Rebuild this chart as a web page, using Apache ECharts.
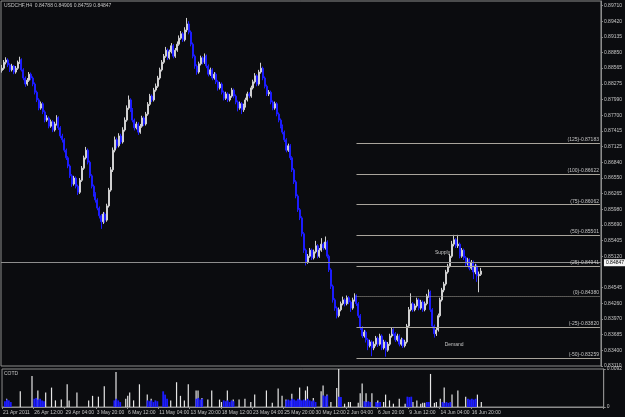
<!DOCTYPE html>
<html><head><meta charset="utf-8">
<script src="https://cdn.jsdelivr.net/npm/echarts@6/dist/echarts.min.js"></script>
<style>html,body{margin:0;padding:0;background:#0b0c0f;}#c{width:625px;height:417px;}</style>
</head><body><div id="c"></div>
<script>
// Tick labels of the time axis (one every 16 H4 bars)
const xTickLabels = ['21 Apr 2011','26 Apr 12:00','29 Apr 04:00','3 May 20:00','6 May 12:00','11 May 04:00','13 May 20:00','18 May 12:00','23 May 04:00','25 May 20:00','30 May 12:00','2 Jun 04:00','6 Jun 20:00','9 Jun 12:00','14 Jun 04:00','16 Jun 20:00'];
// Price axis tick labels
const priceTicks = [0.89710,0.89420,0.89135,0.88850,0.88565,0.88275,0.87990,0.87700,0.87415,0.87125,0.86840,0.86550,0.86265,0.85980,0.85690,0.85405,0.85120,0.84545,0.84260,0.83970,0.83685,0.83400,0.83110];
// Fibonacci levels
const fibNames = ['(125)','(100)','(75)','(50)','(25)','(0)','(-25)','(-50)'];
const fibPrices = [0.87183,0.86622,0.86062,0.85501,0.84941,0.84380,0.83820,0.83259];
const lastPrice = 0.84847;

const open = [0.8852,0.8856,0.8867,0.8871,0.8862,0.8853,0.8860,0.8849,0.8856,0.8867,
0.8871,0.8853,0.8838,0.8827,0.8834,0.8845,0.8838,0.8827,0.8812,0.8798,
0.8783,0.8791,0.8776,0.8761,0.8765,0.8750,0.8758,0.8743,0.8754,0.8765,
0.8747,0.8732,0.8725,0.8706,0.8692,0.8677,0.8659,0.8644,0.8655,0.8640,
0.8629,0.8651,0.8673,0.8692,0.8706,0.8684,0.8659,0.8640,0.8626,0.8615,
0.8600,0.8586,0.8575,0.8589,0.8578,0.8604,0.8633,0.8670,0.8706,0.8725,
0.8714,0.8732,0.8721,0.8743,0.8761,0.8783,0.8798,0.8780,0.8761,0.8747,
0.8754,0.8739,0.8750,0.8765,0.8754,0.8772,0.8790,0.8805,0.8798,0.8816,
0.8823,0.8838,0.8853,0.8867,0.8878,0.8889,0.8875,0.8886,0.8897,0.8878,
0.8889,0.8900,0.8911,0.8919,0.8908,0.8926,0.8937,0.8922,0.8900,0.8878,
0.8860,0.8849,0.8864,0.8875,0.8867,0.8878,0.8860,0.8845,0.8853,0.8838,
0.8845,0.8831,0.8820,0.8827,0.8812,0.8801,0.8809,0.8798,0.8805,0.8816,
0.8805,0.8794,0.8783,0.8791,0.8780,0.8787,0.8798,0.8809,0.8805,0.8820,
0.8831,0.8842,0.8827,0.8849,0.8856,0.8838,0.8823,0.8809,0.8812,0.8794,
0.8783,0.8791,0.8772,0.8761,0.8750,0.8739,0.8725,0.8706,0.8714,0.8692,
0.8670,0.8648,0.8622,0.8597,0.8582,0.8553,0.8523,0.8501,0.8512,0.8523,
0.8509,0.8520,0.8531,0.8512,0.8523,0.8534,0.8527,0.8538,0.8512,0.8487,
0.8457,0.8432,0.8417,0.8403,0.8414,0.8425,0.8432,0.8425,0.8436,0.8428,
0.8417,0.8432,0.8439,0.8425,0.8403,0.8381,0.8366,0.8373,0.8359,0.8348,
0.8355,0.8344,0.8351,0.8362,0.8351,0.8366,0.8344,0.8355,0.8340,0.8351,
0.8366,0.8377,0.8370,0.8359,0.8366,0.8351,0.8359,0.8348,0.8355,0.8384,
0.8414,0.8425,0.8414,0.8421,0.8432,0.8417,0.8428,0.8414,0.8425,0.8439,
0.8446,0.8414,0.8384,0.8370,0.8377,0.8403,0.8432,0.8450,0.8461,0.8483,
0.8494,0.8512,0.8534,0.8542,0.8531,0.8534,0.8512,0.8523,0.8509,0.8498,
0.8505,0.8490,0.8501,0.8483,0.8494,0.8476,0.84788];

const close = [0.8856,0.8867,0.8871,0.8862,0.8853,0.8860,0.8849,0.8856,0.8867,0.8871,
0.8853,0.8838,0.8827,0.8834,0.8845,0.8838,0.8827,0.8812,0.8798,0.8783,
0.8791,0.8776,0.8761,0.8765,0.8750,0.8758,0.8743,0.8754,0.8765,0.8747,
0.8732,0.8725,0.8706,0.8692,0.8677,0.8659,0.8644,0.8655,0.8640,0.8629,
0.8651,0.8673,0.8692,0.8706,0.8684,0.8659,0.8640,0.8626,0.8615,0.8600,
0.8586,0.8575,0.8589,0.8578,0.8604,0.8633,0.8670,0.8706,0.8725,0.8714,
0.8732,0.8721,0.8743,0.8761,0.8783,0.8798,0.8780,0.8761,0.8747,0.8754,
0.8739,0.8750,0.8765,0.8754,0.8772,0.8790,0.8805,0.8798,0.8816,0.8823,
0.8838,0.8853,0.8867,0.8878,0.8889,0.8875,0.8886,0.8897,0.8878,0.8889,
0.8900,0.8911,0.8919,0.8908,0.8926,0.8937,0.8922,0.8900,0.8878,0.8860,
0.8849,0.8864,0.8875,0.8867,0.8878,0.8860,0.8845,0.8853,0.8838,0.8845,
0.8831,0.8820,0.8827,0.8812,0.8801,0.8809,0.8798,0.8805,0.8816,0.8805,
0.8794,0.8783,0.8791,0.8780,0.8787,0.8798,0.8809,0.8805,0.8820,0.8831,
0.8842,0.8827,0.8849,0.8856,0.8838,0.8823,0.8809,0.8812,0.8794,0.8783,
0.8791,0.8772,0.8761,0.8750,0.8739,0.8725,0.8706,0.8714,0.8692,0.8670,
0.8648,0.8622,0.8597,0.8582,0.8553,0.8523,0.8501,0.8512,0.8523,0.8509,
0.8520,0.8531,0.8512,0.8523,0.8534,0.8527,0.8538,0.8512,0.8487,0.8457,
0.8432,0.8417,0.8403,0.8414,0.8425,0.8432,0.8425,0.8436,0.8428,0.8417,
0.8432,0.8439,0.8425,0.8403,0.8381,0.8366,0.8373,0.8359,0.8348,0.8355,
0.8344,0.8351,0.8362,0.8351,0.8366,0.8344,0.8355,0.8340,0.8351,0.8366,
0.8377,0.8370,0.8359,0.8366,0.8351,0.8359,0.8348,0.8355,0.8384,0.8414,
0.8425,0.8414,0.8421,0.8432,0.8417,0.8428,0.8414,0.8425,0.8439,0.8446,
0.8414,0.8384,0.8370,0.8377,0.8403,0.8432,0.8450,0.8461,0.8483,0.8494,
0.8512,0.8534,0.8542,0.8531,0.8534,0.8512,0.8523,0.8509,0.8498,0.8505,
0.8490,0.8501,0.8483,0.8494,0.8476,0.8479,0.84847];

const high = [0.8862,0.8871,0.8876,0.8874,0.8865,0.8864,0.8862,0.8860,0.8870,0.8877,
0.8874,0.8856,0.8841,0.8838,0.8849,0.8848,0.8841,0.8830,0.8815,0.8801,
0.8795,0.8794,0.8779,0.8770,0.8768,0.8762,0.8761,0.8758,0.8770,0.8768,
0.8750,0.8736,0.8728,0.8709,0.8695,0.8680,0.8662,0.8659,0.8658,0.8643,
0.8655,0.8677,0.8696,0.8712,0.8709,0.8687,0.8662,0.8643,0.8629,0.8618,
0.8603,0.8589,0.8593,0.8592,0.8608,0.8637,0.8675,0.8711,0.8731,0.8729,
0.8737,0.8736,0.8748,0.8766,0.8788,0.8806,0.8801,0.8783,0.8764,0.8758,
0.8757,0.8754,0.8769,0.8768,0.8776,0.8794,0.8809,0.8808,0.8820,0.8828,
0.8842,0.8857,0.8871,0.8882,0.8895,0.8892,0.8890,0.8902,0.8900,0.8893,
0.8905,0.8916,0.8924,0.8922,0.8931,0.8948,0.8942,0.8925,0.8903,0.8881,
0.8863,0.8868,0.8879,0.8878,0.8883,0.8881,0.8863,0.8857,0.8856,0.8849,
0.8848,0.8834,0.8831,0.8830,0.8815,0.8813,0.8812,0.8809,0.8820,0.8819,
0.8808,0.8797,0.8795,0.8794,0.8791,0.8802,0.8813,0.8812,0.8824,0.8835,
0.8847,0.8845,0.8853,0.8866,0.8859,0.8841,0.8826,0.8816,0.8815,0.8797,
0.8795,0.8794,0.8775,0.8764,0.8753,0.8742,0.8728,0.8718,0.8717,0.8695,
0.8673,0.8651,0.8625,0.8600,0.8585,0.8556,0.8526,0.8516,0.8527,0.8526,
0.8524,0.8540,0.8534,0.8527,0.8545,0.8537,0.8548,0.8541,0.8515,0.8490,
0.8460,0.8435,0.8420,0.8418,0.8429,0.8438,0.8435,0.8440,0.8439,0.8431,
0.8436,0.8444,0.8442,0.8428,0.8406,0.8384,0.8377,0.8376,0.8362,0.8359,
0.8358,0.8356,0.8366,0.8365,0.8370,0.8369,0.8359,0.8358,0.8355,0.8370,
0.8381,0.8380,0.8373,0.8370,0.8369,0.8363,0.8362,0.8359,0.8388,0.8419,
0.8444,0.8428,0.8425,0.8436,0.8435,0.8432,0.8431,0.8429,0.8443,0.8451,
0.8449,0.8417,0.8387,0.8381,0.8407,0.8436,0.8454,0.8465,0.8487,0.8498,
0.8516,0.8540,0.8551,0.8545,0.8551,0.8537,0.8527,0.8526,0.8512,0.8509,
0.8508,0.8505,0.8504,0.8498,0.8497,0.8484,0.84906];

const low = [0.8848,0.8853,0.8863,0.8858,0.8849,0.8850,0.8845,0.8846,0.8853,0.8864,
0.8850,0.8834,0.8822,0.8824,0.8831,0.8834,0.8823,0.8808,0.8794,0.8779,
0.8780,0.8772,0.8757,0.8758,0.8746,0.8747,0.8739,0.8740,0.8751,0.8743,
0.8728,0.8720,0.8702,0.8688,0.8673,0.8655,0.8639,0.8641,0.8636,0.8624,
0.8626,0.8648,0.8670,0.8689,0.8680,0.8655,0.8636,0.8621,0.8610,0.8596,
0.8581,0.8562,0.8571,0.8573,0.8575,0.8601,0.8630,0.8666,0.8702,0.8709,
0.8711,0.8717,0.8718,0.8740,0.8758,0.8780,0.8776,0.8757,0.8742,0.8744,
0.8734,0.8736,0.8747,0.8750,0.8751,0.8769,0.8787,0.8794,0.8795,0.8813,
0.8820,0.8835,0.8850,0.8864,0.8875,0.8871,0.8872,0.8883,0.8874,0.8875,
0.8886,0.8897,0.8908,0.8904,0.8905,0.8922,0.8918,0.8896,0.8874,0.8855,
0.8844,0.8846,0.8861,0.8863,0.8864,0.8856,0.8841,0.8842,0.8834,0.8835,
0.8827,0.8815,0.8817,0.8808,0.8797,0.8798,0.8794,0.8795,0.8802,0.8801,
0.8790,0.8777,0.8780,0.8772,0.8776,0.8784,0.8795,0.8801,0.8802,0.8817,
0.8828,0.8823,0.8824,0.8846,0.8834,0.8819,0.8805,0.8805,0.8790,0.8779,
0.8780,0.8768,0.8757,0.8746,0.8735,0.8721,0.8702,0.8703,0.8688,0.8666,
0.8644,0.8618,0.8593,0.8578,0.8548,0.8518,0.8495,0.8498,0.8509,0.8505,
0.8506,0.8517,0.8508,0.8509,0.8520,0.8523,0.8524,0.8508,0.8483,0.8452,
0.8427,0.8412,0.8398,0.8400,0.8411,0.8422,0.8420,0.8422,0.8424,0.8410,
0.8414,0.8429,0.8421,0.8399,0.8377,0.8362,0.8363,0.8354,0.8340,0.8345,
0.8329,0.8340,0.8347,0.8346,0.8348,0.8340,0.8341,0.8328,0.8337,0.8348,
0.8363,0.8366,0.8355,0.8356,0.8347,0.8348,0.8344,0.8345,0.8352,0.8381,
0.8411,0.8410,0.8411,0.8418,0.8413,0.8414,0.8410,0.8411,0.8422,0.8436,
0.8410,0.8380,0.8363,0.8366,0.8374,0.8400,0.8429,0.8446,0.8458,0.8480,
0.8491,0.8509,0.8530,0.8527,0.8527,0.8508,0.8509,0.8505,0.8494,0.8495,
0.8486,0.8487,0.8470,0.8479,0.8465,0.8446,0.84759];

// COTD indicator histograms
const cotdWhite = [0,0,0.0020,0,0,0,0,0,0,0.0038,
0,0,0,0,0,0.0075,0,0,0.0040,0,
0,0,0.0035,0,0,0.0047,0,0.0016,0,0,
0.0018,0,0,0.0055,0.0016,0,0,0,0.0035,0,
0,0,0,0,0.0016,0,0.0027,0,0,0.0025,
0,0,0.0050,0,0,0,0,0,0.0085,0,
0,0,0,0.0020,0.0027,0.0035,0,0.0016,0,0,
0.0055,0,0,0,0.0030,0,0.0020,0,0,0,
0,0,0,0,0,0,0.0016,0,0,0.0060,
0,0.0027,0,0.0016,0,0.0055,0,0,0,0.0040,
0.0040,0,0.0022,0,0,0.0018,0,0.0040,0,0,
0,0.0018,0.0012,0,0,0.0040,0,0,0.0018,0,
0,0.0018,0,0,0.0020,0,0,0.0012,0,0.0030,
0,0,0,0,0,0.0040,0,0,0.0010,0,
0,0.0045,0,0.0027,0,0.0018,0,0,0.0032,0,
0,0,0.0047,0,0,0.0040,0.0050,0,0,0.0022,
0,0,0,0.0038,0.0052,0,0.0030,0,0.0012,0,
0,0.0046,0.0092,0,0,0.0008,0,0.0012,0.0012,0,
0,0,0.0010,0.0033,0.0057,0,0.0033,0,0,0.0033,
0,0,0.0016,0,0,0.0012,0.0030,0,0.0016,0,
0.0008,0,0,0.0020,0,0,0.0008,0,0,0,
0.0012,0,0.0016,0,0.0008,0.0010,0.0010,0,0,0.0080,
0,0.0010,0.0012,0,0.0020,0,0.0047,0,0,0,
0.0030,0,0,0.0040,0,0,0,0.0025,0,0,
0.0018,0,0,0.0030,0,0.0012,0];

const cotdBlue = [0,0.0014,0.0018,0.0016,0.0012,0,0,0,0,0,
0,0,0,0,0,0,0.0020,0.0022,0.0018,0.0020,
0.0016,0.0014,0,0,0,0,0,0,0,0,
0,0,0,0,0,0,0,0,0,0,
0,0,0,0,0,0,0,0,0,0,
0,0,0,0,0,0,0,0.0016,0.0020,0.0016,
0.0012,0,0,0,0,0,0,0,0,0,
0,0,0,0,0.0016,0.0014,0.0016,0.0012,0.0016,0.0014,
0,0,0.0038,0.0030,0.0020,0,0,0,0,0,
0,0,0,0,0,0,0,0,0,0.0020,
0.0022,0.0018,0.0020,0,0,0,0,0,0,0,
0,0,0,0.0016,0.0014,0.0016,0.0012,0.0016,0.0014,0,
0,0,0,0,0,0,0,0,0,0,
0,0,0,0,0,0,0,0,0,0,
0,0,0,0,0,0.0016,0.0018,0.0016,0.0020,0.0018,
0.0016,0.0020,0.0018,0.0016,0.0018,0.0016,0.0020,0.0016,0.0014,0.0016,
0.0012,0,0,0,0.0028,0.0026,0.0028,0,0,0,
0,0,0.0025,0.0024,0,0,0,0,0,0,
0,0,0,0,0,0.0014,0.0012,0.0014,0.0012,0,
0,0.0012,0.0010,0.0012,0,0,0,0,0,0,
0,0,0,0,0,0,0,0.0025,0.0024,0.0025,
0,0,0,0,0,0,0,0.0012,0.0012,0,
0,0,0,0,0,0.0012,0.0010,0.0012,0.0010,0.0012,
0,0,0,0,0,0,0,0,0.0020,0.0018,
0.0020,0.0018,0.0020,0,0,0,0];

const cotdTicks = [0, 0.0092];
const barsPerLabel = 16;
const slotCount = 308;     // bar slots visible across the chart width
const fibStart = 182;      // bar slot where the fibo lines begin
const notes = [{name:'Supply', slot:222, price:0.8518}, {name:'Demand', slot:227, price:0.8351}];

const slots = [];
for (let i = 0; i < slotCount; i++) slots.push(i);

const FONT = 'Liberation Sans';
const TXT = '#c4c4c4';
const AX = '#8c8c8c';

const candleData = open.map((o, i) => [o, close[i], low[i], high[i]]);

const fibLines = fibPrices.map((p, k) => [
  { coord: [fibStart, p],
    lineStyle: { color: '#a9a59c', width: 1, type: p === 0.84380 ? 'dotted' : 'solid' },
    label: { show: true, position: 'insideEndTop', formatter: fibNames[k] + '-' + p.toFixed(5),
             color: TXT, fontSize: 5, fontFamily: FONT, distance: 1 } },
  { coord: [slotCount - 1, p] }
]);

const labelInterval = (i) => i % barsPerLabel === 0 && i / barsPerLabel < xTickLabels.length;

const chart = echarts.init(document.getElementById('c'), null, { renderer: 'canvas' });
chart.setOption({
  backgroundColor: '#0b0c0f',
  animation: false,
  textStyle: { fontFamily: FONT },
  grid: [
    { left: 1, top: 1, width: 605, height: 365, show: true, borderColor: AX, borderWidth: 1, backgroundColor: 'transparent' },
    { left: 1, top: 369, width: 605, height: 38, show: true, borderColor: AX, borderWidth: 1, backgroundColor: 'transparent' }
  ],
  xAxis: [
    { type: 'category', gridIndex: 0, data: slots, boundaryGap: true,
      axisLine: { show: false }, axisTick: { show: false }, axisLabel: { show: false }, splitLine: { show: false } },
    { type: 'category', gridIndex: 1, data: slots, boundaryGap: true,
      axisLine: { show: true, lineStyle: { color: AX } },
      axisTick: { show: true, length: 2, interval: labelInterval, lineStyle: { color: AX } },
      axisLabel: { show: true, interval: labelInterval, formatter: (v, i) => xTickLabels[i / barsPerLabel] || '',
                   color: TXT, fontSize: 5, fontFamily: FONT, align: 'left', margin: 3 },
      splitLine: { show: false } }
  ],
  yAxis: [
    { type: 'value', gridIndex: 0, position: 'right', min: 0.8311, max: 0.8979,
      splitLine: { show: false },
      axisLine: { show: true, lineStyle: { color: AX } },
      axisTick: { show: true, length: 2, customValues: priceTicks, lineStyle: { color: AX } },
      axisLabel: { customValues: priceTicks, formatter: v => v.toFixed(5), color: TXT, fontSize: 5, fontFamily: FONT, margin: 3 } },
    { type: 'value', gridIndex: 1, position: 'right', min: 0, max: 0.0092,
      splitLine: { show: false },
      axisLine: { show: true, lineStyle: { color: AX } },
      axisTick: { show: true, length: 2, customValues: cotdTicks, lineStyle: { color: AX } },
      axisLabel: { customValues: cotdTicks, formatter: v => v === 0 ? '0' : v.toFixed(4), color: TXT, fontSize: 5, fontFamily: FONT, margin: 3 } }
  ],
  series: [
    { type: 'candlestick', xAxisIndex: 0, yAxisIndex: 0, data: candleData, barWidth: 1.5,
      itemStyle: { color: '#ffffff', color0: '#1c1cff', borderColor: '#d0d0d0', borderColor0: '#1c1cff', borderWidth: 1 },
      markLine: { silent: true, symbol: ['none', 'none'], animation: false,
        data: fibLines.concat([
          { yAxis: lastPrice, lineStyle: { color: '#8e8e8e', width: 1, type: 'solid' },
            label: { show: true, position: 'end', formatter: lastPrice.toFixed(5), backgroundColor: '#f4f4f4',
                     color: '#000', fontSize: 5, fontFamily: FONT, padding: [1, 2], distance: 3 } }
        ]) },
      markPoint: { silent: true, symbol: 'circle', symbolSize: 1, itemStyle: { color: 'rgba(0,0,0,0)' },
        data: notes.map(n => ({ name: n.name, coord: [n.slot, n.price] })),
        label: { show: true, position: 'right', distance: 0, formatter: '{b}', color: TXT, fontSize: 5, fontFamily: FONT } }
    },
    { type: 'bar', xAxisIndex: 1, yAxisIndex: 1, data: cotdWhite, barWidth: 1.2, barGap: '-100%',
      itemStyle: { color: '#e6e6e6' } },
    { type: 'bar', xAxisIndex: 1, yAxisIndex: 1, data: cotdBlue, barWidth: 1.8, barGap: '-100%',
      itemStyle: { color: '#1c1cff' } }
  ],
  graphic: [
    { type: 'text', left: 4, top: 3, style: { text: 'USDCHF,H4  0.84788 0.84906 0.84759 0.84847', fill: TXT, fontSize: 5, fontFamily: FONT } },
    { type: 'text', left: 4, top: 371, style: { text: 'COTD', fill: TXT, fontSize: 5, fontFamily: FONT } }
  ]
});
</script>
</body></html>
